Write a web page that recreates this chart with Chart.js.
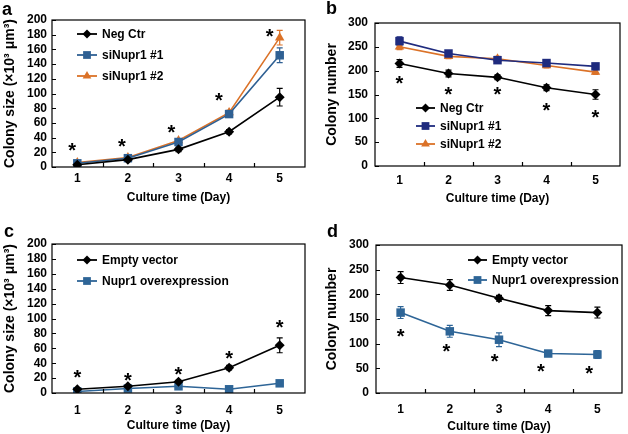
<!DOCTYPE html>
<html>
<head>
<meta charset="utf-8">
<script src="https://cdn.jsdelivr.net/npm/chart.js@4"></script>
<style>
  html, body { margin: 0; padding: 0; background: #fff; }
  #wrap { position: relative; width: 628px; height: 434px; overflow: hidden; }
  canvas { position: absolute; }
  .tag { position: absolute; font: bold 18px "Liberation Sans", Arial, sans-serif; line-height: 1; color: #000; }
</style>
</head>
<body>
<div id="wrap">
  <canvas id="pa" width="314" height="217" style="left:0;top:0"></canvas>
  <canvas id="pb" width="314" height="217" style="left:314px;top:0"></canvas>
  <canvas id="pc" width="314" height="217" style="left:0;top:217px"></canvas>
  <canvas id="pd" width="314" height="217" style="left:314px;top:217px"></canvas>
  <div class="tag" style="left:2px;top:0px">a</div>
  <div class="tag" style="left:326px;top:-1px">b</div>
  <div class="tag" style="left:4px;top:222px">c</div>
  <div class="tag" style="left:327px;top:222px">d</div>
</div>
<script>
const days = ["1", "2", "3", "4", "5"]

// a: colony size after knockdown
const aNegCtr = [3, 10, 24, 48, 95]
const aNegCtrErr = [1, 1.5, 3, 3, 12]
const aSi1 = [5, 12, 34, 72, 152]
const aSi1Err = [1, 1.5, 2, 3, 10]
const aSi2 = [6, 13, 36, 74, 176]
const aSi2Err = [1, 1.5, 2, 3, 10]
const aStarDays = [0.9, 1.88, 2.86, 3.8, 4.8]
const aStarVals = [27, 32, 52, 95, 182]

// b: colony number after knockdown
const bNegCtr = [215, 194, 186, 164, 150]
const bNegCtrErr = [8, 7, 5, 6, 10]
const bSi1 = [262, 236, 222, 216, 209]
const bSi1Err = [9, 6, 5, 5, 5]
const bSi2 = [250, 230, 225, 211, 197]
const bSi2Err = [6, 5, 5, 5, 5]
const bStarDays = [1, 2, 3, 4, 5]
const bStarVals = [180, 158, 158, 123, 109]

// c: colony size after overexpression
const cEmpty = [5, 9, 15, 34, 64]
const cEmptyErr = [1, 1.5, 2, 3, 10]
const cNupr1 = [2, 6, 9, 5, 13]
const cNupr1Err = [1, 1, 1.5, 1, 1.5]
const cStarDays = [1, 2, 3, 4, 5]
const cStarVals = [26, 22, 30, 51, 92]

// d: colony number after overexpression
const dEmpty = [234, 219, 192, 167, 163]
const dEmptyErr = [12, 11, 6, 10, 11]
const dNupr1 = [163, 125, 108, 80, 78]
const dNupr1Err = [12, 12, 14, 6, 8]
const dStarDays = [1, 1.93, 2.91, 3.85, 4.83]
const dStarVals = [122, 92, 70, 51, 46]

const FONT = '"Liberation Sans", Arial, sans-serif'
Chart.defaults.font.family = FONT
Chart.defaults.color = "#000"

const BLACK = "#000000"
const ORANGE = "#db7228"

// frame, inward ticks, error bars, stars and the legend box
const extras = {
  id: "extras",
  beforeDatasetsDraw(chart) {
    const ctx = chart.ctx
    const y = chart.scales.y
    chart.data.datasets.forEach((ds, i) => {
      const meta = chart.getDatasetMeta(i)
      ctx.save()
      ctx.strokeStyle = ds.borderColor
      ctx.lineWidth = 1.2
      meta.data.forEach((pt, j) => {
        const e = ds.err[j]
        const top = y.getPixelForValue(ds.data[j] + e)
        const bot = y.getPixelForValue(ds.data[j] - e)
        ctx.beginPath()
        ctx.moveTo(pt.x, top); ctx.lineTo(pt.x, bot)
        ctx.moveTo(pt.x - 3, top); ctx.lineTo(pt.x + 3, top)
        ctx.moveTo(pt.x - 3, bot); ctx.lineTo(pt.x + 3, bot)
        ctx.stroke()
      })
      ctx.restore()
    })
  },
  afterDraw(chart, args, opts) {
    const ctx = chart.ctx
    const a = chart.chartArea
    const x = chart.scales.x
    const y = chart.scales.y
    ctx.save()
    ctx.strokeStyle = "#000"
    ctx.lineWidth = 1.2
    ctx.strokeRect(a.left, a.top, a.right - a.left, a.bottom - a.top)
    ctx.beginPath()
    y.ticks.forEach((t, i) => {
      const py = Math.round(y.getPixelForTick(i)) + 0.5
      ctx.moveTo(a.left, py); ctx.lineTo(a.left + 4, py)
    })
    for (let i = 1; i < x.ticks.length; i++) {
      const px = Math.round((x.getPixelForTick(i) + x.getPixelForTick(i - 1)) / 2) + 0.5
      ctx.moveTo(px, a.bottom); ctx.lineTo(px, a.bottom - 4)
    }
    ctx.stroke()

    // significance stars
    ctx.fillStyle = "#000"
    ctx.font = "bold 20px " + FONT
    ctx.textAlign = "center"
    ctx.textBaseline = "alphabetic"
    const m = ctx.measureText("*")
    const mid = (m.actualBoundingBoxDescent - m.actualBoundingBoxAscent) / 2
    const step = x.getPixelForTick(1) - x.getPixelForTick(0)
    opts.starDays.forEach((d, i) => {
      const px = x.getPixelForTick(0) + (d - 1) * step
      const py = y.getPixelForValue(opts.starVals[i])
      ctx.fillText("*", px, py - mid)
    })

    // legend
    ctx.font = "bold 12px " + FONT
    ctx.textAlign = "left"
    ctx.textBaseline = "middle"
    chart.data.datasets.forEach((ds, i) => {
      const ly = opts.keyY[i]
      ctx.strokeStyle = ds.borderColor
      ctx.lineWidth = 1.8
      ctx.beginPath()
      ctx.moveTo(opts.keyX, ly); ctx.lineTo(opts.keyX + opts.keyW, ly)
      ctx.stroke()
      ctx.fillStyle = ds.borderColor
      Chart.helpers.drawPoint(ctx, { pointStyle: ds.pointStyle, radius: ds.pointRadius - 0.5, borderWidth: 0, rotation: 0 }, opts.keyX + opts.keyW / 2, ly)
      ctx.fillStyle = "#000"
      ctx.fillText(ds.label, opts.keyX + opts.keyW + 5, ly + 0.5)
    })
    ctx.restore()
  }
}

function series(label, data, err, color, shape, r) {
  return {
    label, data, err,
    borderColor: color, backgroundColor: color,
    pointStyle: shape, pointRadius: r, pointHoverRadius: r,
    pointBorderWidth: 0, borderWidth: 1.6, tension: 0
  }
}

function panel(id, o) {
  new Chart(document.getElementById(id), {
    type: "line",
    data: { labels: days, datasets: o.sets },
    options: {
      responsive: false,
      animation: false,
      events: [],
      layout: { padding: { left: 0, top: o.top, right: o.right, bottom: 0 } },
      plugins: {
        legend: { display: false },
        tooltip: { enabled: false },
        extras: { starDays: o.starDays, starVals: o.starVals, keyX: o.keyX, keyW: o.keyW, keyY: o.keyY }
      },
      scales: {
        x: {
          type: "category",
          offset: true,
          grid: { display: false, drawTicks: false },
          border: { display: false },
          ticks: { color: "#000", padding: o.xPad, font: { size: 12, weight: "bold" } },
          title: { display: true, text: "Culture time (Day)", color: "#000", font: { size: 12, weight: "bold" }, padding: { top: 0, bottom: o.xTitle } },
          afterFit: (s) => { s.height = o.xH }
        },
        y: {
          min: 0,
          max: o.max,
          grid: { display: false, drawTicks: false },
          border: { display: false },
          ticks: { stepSize: o.step, autoSkip: false, color: "#000", padding: o.yPad, font: { size: 12, weight: "bold" } },
          title: { display: true, text: o.yTitle, color: "#000", font: { size: 14, weight: "bold" }, padding: { top: o.yTitlePad, bottom: 0 } },
          afterFit: (s) => { s.width = o.yW }
        }
      }
    },
    plugins: [extras]
  })
}

const sizeTitle = "Colony size (×10³ μm³)"
const numTitle = "Colony number"

panel("pa", {
  sets: [
    series("Neg Ctr", aNegCtr, aNegCtrErr, BLACK, "rectRot", 5),
    series("siNupr1 #1", aSi1, aSi1Err, "#2f6093", "rect", 6),
    series("siNupr1 #2", aSi2, aSi2Err, ORANGE, "triangle", 5.5)
  ],
  max: 200, step: 20, yTitle: sizeTitle,
  top: 20, right: 9, yW: 52, xH: 50, xPad: 4, xTitle: 11.8, yPad: 5, yTitlePad: 1.6,
  starDays: aStarDays, starVals: aStarVals,
  keyX: 77, keyW: 20, keyY: [34, 55, 76]
})

panel("pb", {
  sets: [
    series("Neg Ctr", bNegCtr, bNegCtrErr, BLACK, "rectRot", 5),
    series("siNupr1 #1", bSi1, bSi1Err, "#1f2b7e", "rect", 6),
    series("siNupr1 #2", bSi2, bSi2Err, ORANGE, "triangle", 5.5)
  ],
  max: 300, step: 50, yTitle: numTitle,
  top: 23, right: 8, yW: 61, xH: 51, xPad: 7, xTitle: 10.8, yPad: 7, yTitlePad: 9.6,
  starDays: bStarDays, starVals: bStarVals,
  keyX: 102, keyW: 19, keyY: [108, 126, 144]
})

panel("pc", {
  sets: [
    series("Empty vector", cEmpty, cEmptyErr, BLACK, "rectRot", 5),
    series("Nupr1 overexpression", cNupr1, cNupr1Err, "#2e6597", "rect", 6)
  ],
  max: 200, step: 20, yTitle: sizeTitle,
  top: 27, right: 9, yW: 52, xH: 41, xPad: 10, xTitle: 0.8, yPad: 5, yTitlePad: 1.6,
  starDays: cStarDays, starVals: cStarVals,
  keyX: 77, keyW: 20, keyY: [43, 64]
})

panel("pd", {
  sets: [
    series("Empty vector", dEmpty, dEmptyErr, BLACK, "rectRot", 5),
    series("Nupr1 overexpression", dNupr1, dNupr1Err, "#2e6597", "rect", 6)
  ],
  max: 300, step: 50, yTitle: numTitle,
  top: 28, right: 1, yW: 62, xH: 41, xPad: 9, xTitle: 0, yPad: 7, yTitlePad: 9.6,
  starDays: dStarDays, starVals: dStarVals,
  keyX: 154, keyW: 19, keyY: [43, 63]
})
</script>
</body>
</html>
